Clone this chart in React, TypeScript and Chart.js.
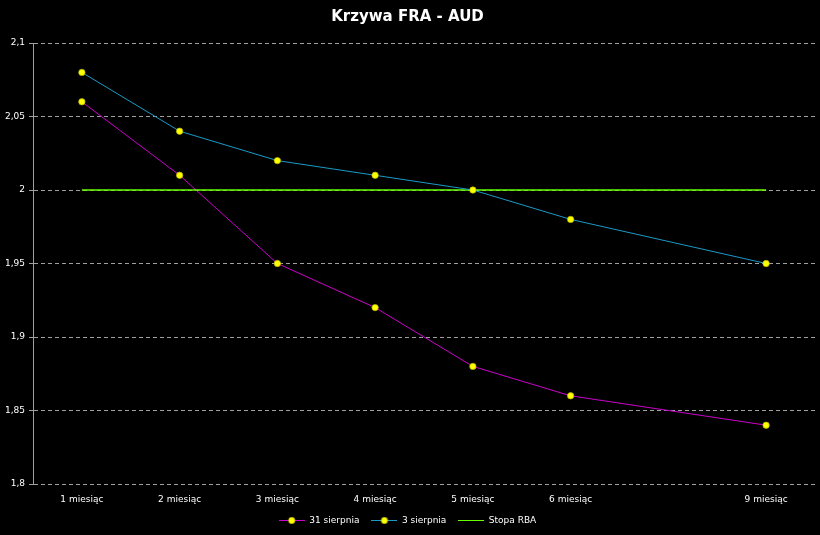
import React, { useEffect, useRef } from "react";
import { Chart, registerables } from "chart.js";

Chart.register(...registerables);

const categories = ["1 miesiąc", "2 miesiąc", "3 miesiąc", "4 miesiąc", "5 miesiąc", "6 miesiąc", "", "9 miesiąc"];
const series31Sierpnia = [2.06, 2.01, 1.95, 1.92, 1.88, 1.86, null, 1.84];
const series3Sierpnia = [2.08, 2.04, 2.02, 2.01, 2.0, 1.98, null, 1.95];
const stopaRBA = [2.0, 2.0, 2.0, 2.0, 2.0, 2.0, 2.0, 2.0];
const yMin = 1.8;
const yMax = 2.1;
const yStep = 0.05;

const MAGENTA = "#cc00cc";
const CYAN = "#1a9ac8";
const GREEN = "#66ff00";
const FONT = "'DejaVu Sans', sans-serif";

function legendIcon(color: string, withDot: boolean): HTMLCanvasElement {
  const c = document.createElement("canvas");
  c.width = 26;
  c.height = 9;
  const ctx = c.getContext("2d")!;
  ctx.strokeStyle = color;
  ctx.lineWidth = 1;
  ctx.beginPath();
  ctx.moveTo(0, 4.5);
  ctx.lineTo(26, 4.5);
  ctx.stroke();
  if (withDot) {
    ctx.fillStyle = "#ffff00";
    ctx.strokeStyle = "#b0b000";
    ctx.lineWidth = 0.7;
    ctx.beginPath();
    ctx.arc(13, 4.5, 3.2, 0, Math.PI * 2);
    ctx.fill();
    ctx.stroke();
  }
  return c;
}

export default function App() {
  const ref = useRef<HTMLCanvasElement | null>(null);

  useEffect(() => {
    document.body.style.margin = "0";
    document.body.style.background = "#000";
    const canvas = ref.current!;
    const icons = [legendIcon(MAGENTA, true), legendIcon(CYAN, true), legendIcon(GREEN, false)];
    const pointCommon = {
      pointRadius: 3.2,
      pointBackgroundColor: "#ffff00",
      pointBorderColor: "#b0b000",
      pointBorderWidth: 0.7,
      borderWidth: 1,
      tension: 0,
      spanGaps: true,
    };
    const chart = new Chart(canvas, {
      type: "line",
      data: {
        labels: categories,
        datasets: [
          { label: "31 sierpnia", data: series31Sierpnia, borderColor: MAGENTA, ...pointCommon, order: 2 },
          { label: "3 sierpnia", data: series3Sierpnia, borderColor: CYAN, ...pointCommon, order: 0 },
          {
            label: "Stopa RBA",
            data: stopaRBA,
            borderColor: GREEN,
            borderWidth: 1.5,
            pointRadius: 0,
            order: 1,
          },
        ],
      },
      options: {
        responsive: false,
        animation: false,
        devicePixelRatio: 1,
        layout: { padding: { left: 0, right: 5, top: 0, bottom: 0 } },
        plugins: {
          tooltip: { enabled: false },
          title: {
            display: true,
            text: "Krzywa FRA - AUD",
            color: "#ffffff",
            font: { family: FONT, size: 15, weight: "bold" },
            padding: { top: 8, bottom: 17 },
          },
          legend: {
            position: "bottom",
            labels: {
              color: "#ffffff",
              font: { family: FONT, size: 9 },
              usePointStyle: true,
              pointStyleWidth: 26,
              padding: 12,
              generateLabels: (ch: any) =>
                ch.data.datasets.map((ds: any, i: number) => ({
                  text: ds.label,
                  fillStyle: ds.borderColor,
                  strokeStyle: ds.borderColor,
                  fontColor: "#ffffff",
                  lineWidth: 0,
                  pointStyle: icons[i],
                  hidden: false,
                  datasetIndex: i,
                })),
            },
          },
        },
        scales: {
          x: {
            type: "category",
            offset: true,
            grid: { display: false },
            border: { display: false },
            ticks: {
              color: "#ffffff",
              font: { family: FONT, size: 9 },
              maxRotation: 0,
              autoSkip: false,
              padding: 2,
            },
            afterFit: (s: any) => {
              s.height = 20;
            },
          },
          y: {
            min: yMin,
            max: yMax,
            grid: {
              color: "#a0a0a0",
              lineWidth: 1,
              tickLength: 4,
              drawTicks: true,
            },
            border: { display: true, color: "#a0a0a0", dash: [4, 3] },
            ticks: {
              stepSize: yStep,
              color: "#ffffff",
              font: { family: FONT, size: 9 },
              padding: 4,
              callback: (v: any) => {
                const n = Math.round(Number(v) * 100) / 100;
                return String(n).replace(".", ",");
              },
            },
            afterFit: (s: any) => {
              s.width = 33;
            },
          },
        },
      },
    } as any);
    return () => chart.destroy();
  }, []);

  return (
    <div style={{ position: "absolute", left: 0, top: 0, width: 820, height: 535, background: "#000" }}>
      <canvas ref={ref} width={820} height={535} style={{ display: "block" }} />
    </div>
  );
}
